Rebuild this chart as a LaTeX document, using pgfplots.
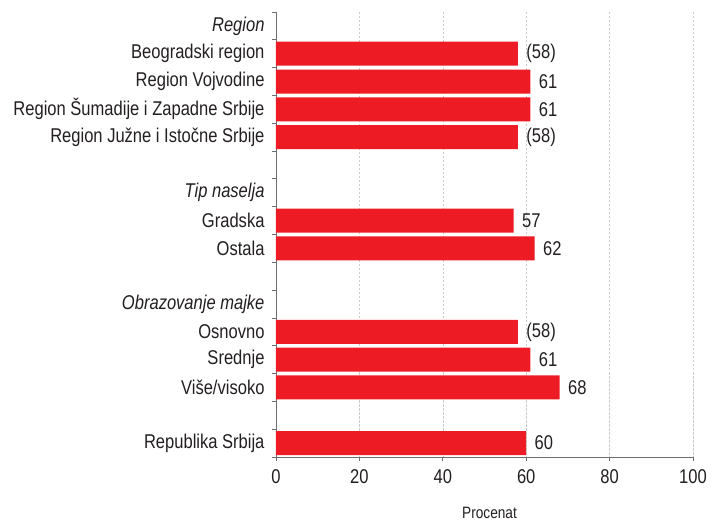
\documentclass[border=0pt]{standalone}
\usepackage{pgfplots}
\pgfplotsset{compat=1.18}
\usepackage{pgfplotstable}
\usepackage{fontspec}
\setmainfont{Liberation Sans}[FakeStretch=0.83]
\definecolor{barred}{HTML}{ED1C24}
\definecolor{txt}{HTML}{231F20}
\definecolor{axgray}{HTML}{6D6E71}

% row index (top = 0), value, printed label
\pgfplotstableread{
row val lab
1  58 (58)
2  61 61
3  61 61
4  58 (58)
7  57 57
8  62 62
11 58 (58)
12 61 61
13 68 68
15 60 60
}\data

\begin{document}
\begin{tikzpicture}[x=1bp,y=1bp]
\begin{axis}[
	at={(0,0)}, anchor=south west,
	scale only axis,
	width=417bp, height=445bp,
	xmin=0, xmax=100,
	ymin=-0.5, ymax=15.5,
	y dir=reverse,
	axis x line=bottom, axis y line=left,
	axis line style={axgray, line width=0.8bp, -},
	xtick={0,20,...,100},
	ytick={0,...,15},
	yticklabels={{\itshape Region},Beogradski region,Region Vojvodine,Region Šumadije i Zapadne Srbije,Region Južne i Istočne Srbije,,{\itshape Tip naselja},Gradska,Ostala,,{\itshape Obrazovanje majke},Osnovno,Srednje,Više/visoko,,Republika Srbija},
	minor ytick={-0.5,0.5,...,15.5},
	tick align=outside,
	major tick length=4bp, minor tick length=4bp,
	tick style={axgray, line width=0.8bp},
	every major y tick/.style={draw=none},
	xmajorgrids,
	grid style={gray!40, line width=0.6bp, dash pattern=on 2.5bp off 1.5bp},
	/pgf/number format/assume math mode=true,
	tick label style={font=\fontsize{20}{22}\selectfont, text=txt},
	yticklabel style={xshift=-4bp},
	xticklabel style={yshift=-5bp},
	xlabel={Procenat},
	xlabel style={font=\fontsize{16.5}{18}\selectfont, text=txt, at={(axis description cs:0.512,0)}, anchor=center, yshift=-56bp},
	xbar, bar width=24bp, bar shift=0pt,
	point meta=explicit symbolic,
	nodes near coords,
	every node near coord/.style={font=\fontsize{20}{22}\selectfont, text=txt, anchor=west, xshift=5bp},
]
\addplot[fill=barred, draw=none] table[x=val, y=row, meta=lab] {\data};
\end{axis}
\pgfresetboundingbox
\path[use as bounding box] (-276,-66) rectangle (437,457);
\end{tikzpicture}
\end{document}
